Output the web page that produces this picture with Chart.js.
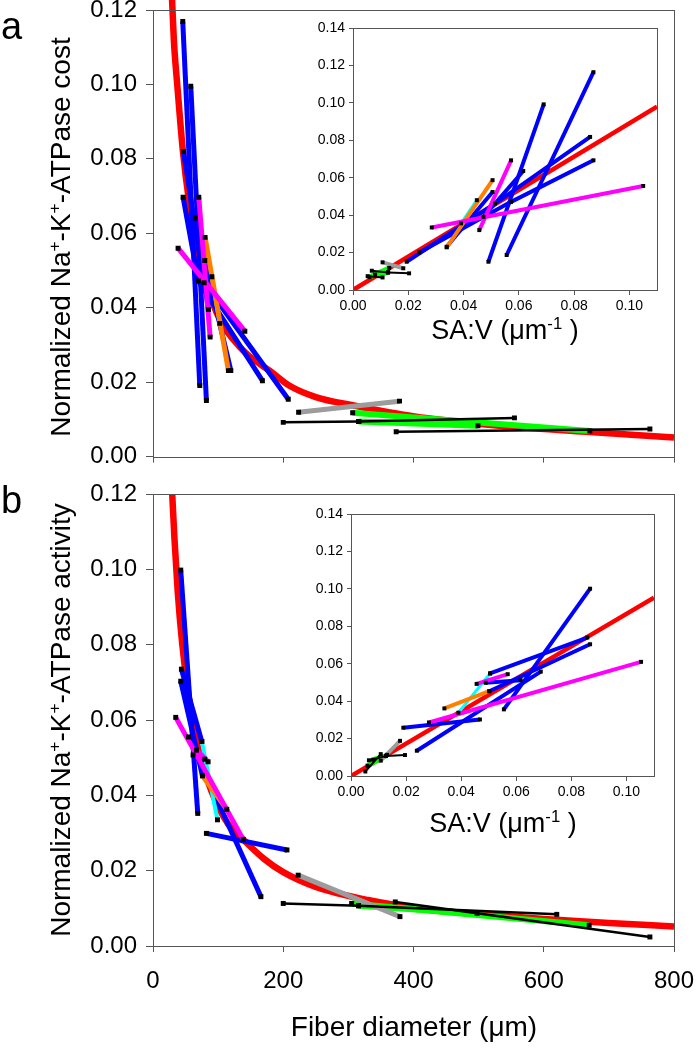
<!DOCTYPE html>
<html>
<head>
<meta charset="utf-8">
<script src="https://cdn.jsdelivr.net/npm/chart.js@4.4.1/dist/chart.umd.min.js"></script>
<style>
html,body{margin:0;padding:0;background:#fff;width:696px;height:1050px;overflow:hidden;position:relative;font-family:"Liberation Sans",Arial,Helvetica,sans-serif;color:#000;}
.cv{position:absolute;}
.tx{position:absolute;white-space:nowrap;line-height:1;color:#000;}
.yt{transform:translate(-50%,-50%) rotate(-90deg);font-size:28px;}
.xt{transform:translate(-50%,-50%);}
.tx sup{font-size:0.62em;vertical-align:baseline;position:relative;top:-0.6em;line-height:0;}
.lt{font-size:38px;}
</style>
</head>
<body>
<canvas id="ma" class="cv" width="730" height="500" style="left:0;top:-20px"></canvas>
<canvas id="mb" class="cv" width="730" height="580" style="left:0;top:470px"></canvas>
<canvas id="ia" class="cv" width="400" height="360" style="left:280px;top:0px"></canvas>
<canvas id="ib" class="cv" width="400" height="370" style="left:280px;top:480px"></canvas>

<div class="tx lt" style="left:1px;top:7px">a</div>
<div class="tx lt" style="left:1px;top:481px">b</div>
<div class="tx yt" style="left:61px;top:237px">Normalized Na<sup>+</sup>-K<sup>+</sup>-ATPase cost</div>
<div class="tx yt" style="left:61px;top:720px">Normalized Na<sup>+</sup>-K<sup>+</sup>-ATPase activity</div>
<div class="tx xt" style="left:414px;top:1027px;font-size:28px">Fiber diameter (μm)</div>
<div class="tx xt" style="left:505px;top:330px;font-size:27px">SA:V (μm<sup>-1</sup> )</div>
<div class="tx xt" style="left:503px;top:823px;font-size:27px">SA:V (μm<sup>-1</sup> )</div>

<script>
// ---------- tick labels ----------
const mainXTicks = [0, 200, 400, 600, 800];
const mainYTicks = [0, 0.02, 0.04, 0.06, 0.08, 0.10, 0.12];
const insetXTicks = [0, 0.02, 0.04, 0.06, 0.08, 0.10];
const insetYTicks = [0, 0.02, 0.04, 0.06, 0.08, 0.10, 0.12, 0.14];

// ---------- panel a, main (fiber diameter µm, normalized cost) : polylines [x1,y1,x2,y2,...] ----------
const aRedX = [28.5, 32, 37.4, 45.7, 55, 70, 90, 106.6, 132, 148, 183.5, 209, 250, 306.6, 404, 496, 583.6, 670.8, 800];
const aRedY = [0.126, 0.112, 0.0996, 0.0824, 0.069, 0.054, 0.042, 0.0355, 0.0297, 0.027, 0.0225, 0.0191, 0.016, 0.0138, 0.0107, 0.0089, 0.0076, 0.0066, 0.0051];
const aBlue = [[45.7,0.1169,71.8,0.0191],[58,0.0995,82,0.0151],[46.7,0.082,78.5,0.0467,207.7,0.0154],[46.2,0.0697,69.7,0.0472,168,0.0204],[65.1,0.0641,85.1,0.0395],[79.5,0.0527,119.5,0.0231]];
const aMagenta = [[38.5,0.056,141,0.0337],[70.3,0.0697,87.7,0.0321]];
const aOrange = [[80,0.0589,115.8,0.0231]];
const aCyan = [[90.3,0.0483,102.6,0.0358]];
const aGray = [[223.6,0.0119,378.5,0.0149]];
const aGreen = [[306.6,0.0118,670.8,0.0069],[315.9,0.0094,499,0.0083]];
const aBlack = [[200,0.0092,315.9,0.0094],[315.9,0.0094,555,0.0104],[373.4,0.0067,763,0.0074]];

// ---------- panel a, inset (SA:V µm-1) ----------
const iaRedX = [0, 0.11];
const iaRedY = [0, 0.098];
const iaBlue = [[0.087,0.1164,0.0556,0.0187],[0.069,0.0992,0.049,0.0151],[0.0858,0.0818,0.0514,0.0462,0.0194,0.0151],[0.087,0.0693,0.0572,0.0471,0.024,0.0201],[0.0616,0.0636,0.0472,0.0391],[0.0505,0.0524,0.0339,0.0231]];
const iaMagenta = [[0.105,0.0556,0.0285,0.0334],[0.0572,0.0693,0.0457,0.032]];
const iaOrange = [[0.0505,0.0587,0.0339,0.0228]];
const iaCyan = [[0.0448,0.048,0.0391,0.0356]];
const iaGray = [[0.0182,0.0116,0.0107,0.0148]];
const iaGreen = [[0.0131,0.0118,0.006,0.0069],[0.0127,0.0094,0.008,0.0083]];
const iaBlack = [[0.0203,0.0089,0.0127,0.0094],[0.0127,0.0094,0.0068,0.0103],[0.0107,0.0067,0.0053,0.0074]];

// ---------- panel b, main (fiber diameter µm, normalized activity) ----------
const bRedX = [29.5, 33, 38, 45, 55, 70, 90, 115, 140, 170, 200, 250, 330, 420, 500, 600, 700, 800];
const bRedY = [0.120, 0.108, 0.094, 0.080, 0.066, 0.052, 0.041, 0.0325, 0.028, 0.0232, 0.0196, 0.0157, 0.0122, 0.0097, 0.0085, 0.0072, 0.0061, 0.0052];
const bBlue = [[42.6,0.0998,68.7,0.0352],[43.6,0.0735,74.9,0.0543],[42.6,0.0703,75.9,0.0452],[54.4,0.0555,165.7,0.0131],[82,0.0299,205.7,0.0255],[61.5,0.0507,79.5,0.0496]];
const bMagenta = [[34.9,0.0607,138.5,0.0283],[66.7,0.052,84.6,0.0489]];
const bOrange = [[75.9,0.0452,113.3,0.0363]];
const bCyan = [[74.9,0.0543,99,0.0335]];
const bGray = [[222.9,0.0188,379.2,0.0078]];
const bGreen = [[305,0.0113,669.8,0.0055],[315.6,0.0107,497.7,0.0087]];
const bBlack = [[200,0.0113,315.6,0.0107],[315.6,0.0107,620,0.0084],[372,0.0117,763,0.0024]];

// ---------- panel b, inset ----------
const ibRedX = [0, 0.11];
const ibRedY = [0, 0.0953];
const ibBlue = [[0.0868,0.1001,0.0555,0.0356],[0.0858,0.074,0.0505,0.0548],[0.0868,0.0704,0.0502,0.0453],[0.0689,0.0558,0.0239,0.0135],[0.0468,0.0302,0.019,0.0258],[0.0616,0.0512,0.0489,0.0498]];
const ibMagenta = [[0.1053,0.061,0.0283,0.0286],[0.0569,0.0544,0.0456,0.0492]];
const ibOrange = [[0.0502,0.0453,0.0339,0.0361]];
const ibCyan = [[0.0505,0.0548,0.039,0.0338]];
const ibGray = [[0.0178,0.0188,0.0108,0.0082]];
const ibGreen = [[0.0131,0.0113,0.006,0.0055],[0.0127,0.0107,0.008,0.0087]];
const ibBlack = [[0.0196,0.0112,0.0127,0.0107],[0.0127,0.0107,0.0065,0.0084],[0.0108,0.0117,0.0052,0.0024]];

// ---------- styling ----------
const FONT = '"Liberation Sans", Arial, Helvetica, sans-serif';
const C = {red:'#ff0000', blue:'#0000ff', magenta:'#ff00ff', orange:'#ff8000', cyan:'#00ffff', gray:'#9c9c9c', green:'#00ff00', black:'#000000'};
const AXIS = '#555555';

const framePlugin = {
  id: 'frame',
  afterDraw(chart) {
    const a = chart.chartArea, ctx = chart.ctx;
    ctx.save();
    ctx.strokeStyle = AXIS; ctx.lineWidth = 1;
    ctx.strokeRect(Math.round(a.left) + 0.5, Math.round(a.top) + 0.5, Math.round(a.right - a.left), Math.round(a.bottom - a.top));
    ctx.restore();
  }
};

function groupsFor(blue, magenta, orange, cyan, gray, green, black, w, kw) {
  return [
    {segs: blue, color: C.blue, width: w, order: 60},
    {segs: gray, color: C.gray, width: w, order: 55},
    {segs: green, color: C.green, width: w + 1, order: 55},
    {segs: magenta, color: C.magenta, width: w, order: 50},
    {segs: orange, color: C.orange, width: w, order: 50},
    {segs: cyan, color: C.cyan, width: w - 1, order: 50},
    {segs: black, color: C.black, width: kw, order: 20}
  ];
}

function toPoints(s) {
  const p = [];
  for (let i = 0; i + 1 < s.length; i += 2) p.push({x: s[i], y: s[i + 1]});
  return p;
}

function buildDatasets(groups, redX, redY, redW, redClip, markerR) {
  const ds = [];
  ds.push({
    data: redX.map((x, i) => ({x: x, y: redY[i]})),
    showLine: true, borderColor: C.red, backgroundColor: C.red, borderWidth: redW,
    pointRadius: 0, cubicInterpolationMode: 'monotone', order: 100, clip: redClip
  });
  const pts = [];
  groups.forEach(g => g.segs.forEach(s => {
    const p = toPoints(s);
    ds.push({
      data: p, showLine: true, borderColor: g.color, backgroundColor: g.color, borderWidth: g.width,
      pointRadius: 0, order: g.order, clip: 0, borderJoinStyle: 'round'
    });
    p.forEach(q => pts.push({x: q.x, y: q.y}));
  }));
  ds.push({
    data: pts, showLine: false, pointStyle: 'rect', pointRadius: markerR,
    backgroundColor: '#000', borderColor: '#000', pointBorderWidth: 0, borderWidth: 0, order: 0, clip: 6
  });
  return ds;
}

function axis(o) {
  return {
    type: 'linear', min: o.min, max: o.max,
    afterBuildTicks: s => { s.ticks = o.ticks.map(v => ({value: v})); },
    afterFit: s => { if (o.horizontal) s.height = o.size; else s.width = o.size; },
    ticks: {display: o.labels, color: '#000', font: {family: FONT, size: o.font}, padding: o.pad,
            maxRotation: 0, autoSkip: false, callback: o.fmt},
    grid: {display: true, drawOnChartArea: false, drawTicks: true, tickLength: o.tick, color: AXIS, lineWidth: 1},
    border: {display: false}
  };
}

function makeChart(id, datasets, xo, yo, padding) {
  return new Chart(document.getElementById(id), {
    type: 'scatter',
    data: {datasets: datasets},
    options: {
      responsive: false, animation: false, devicePixelRatio: 1, events: [],
      layout: {padding: padding},
      plugins: {legend: {display: false}, tooltip: {enabled: false}},
      scales: {x: axis(Object.assign({horizontal: true}, xo)), y: axis(yo)}
    },
    plugins: [framePlugin]
  });
}

const fmt2 = v => Number(v).toFixed(2);
const fmt0 = v => String(v);

// Panel a main
makeChart('ma',
  buildDatasets(groupsFor(aBlue, aMagenta, aOrange, aCyan, aGray, aGreen, aBlack, 5, 2.5), aRedX, aRedY, 6.5, {left: 0, top: false, right: 0, bottom: 0}, 3.5),
  {min: 0, max: 800, ticks: mainXTicks, labels: false, font: 24, pad: 8, tick: 6, size: 18, fmt: fmt0},
  {min: 0, max: 0.12, ticks: mainYTicks, labels: true, font: 24, pad: 9, tick: 7, size: 153, fmt: fmt2},
  {left: 0, top: 30, right: 56, bottom: 0});

// Panel b main
makeChart('mb',
  buildDatasets(groupsFor(bBlue, bMagenta, bOrange, bCyan, bGray, bGreen, bBlack, 5, 2.5), bRedX, bRedY, 6.5, 0, 3.5),
  {min: 0, max: 800, ticks: mainXTicks, labels: true, font: 24, pad: 15, tick: 6, size: 104, fmt: fmt0},
  {min: 0, max: 0.12, ticks: mainYTicks, labels: true, font: 24, pad: 9, tick: 7, size: 153, fmt: fmt2},
  {left: 0, top: 24, right: 56, bottom: 0});

// Panel a inset
makeChart('ia',
  buildDatasets(groupsFor(iaBlue, iaMagenta, iaOrange, iaCyan, iaGray, iaGreen, iaBlack, 4, 2), iaRedX, iaRedY, 4.5, 0, 2.8),
  {min: 0, max: 0.11, ticks: insetXTicks, labels: true, font: 14, pad: 3, tick: 5, size: 70, fmt: fmt2},
  {min: 0, max: 0.14, ticks: insetYTicks, labels: true, font: 14, pad: 4, tick: 4, size: 73, fmt: fmt2},
  {left: 0, top: 28, right: 23, bottom: 0});

// Panel b inset
makeChart('ib',
  buildDatasets(groupsFor(ibBlue, ibMagenta, ibOrange, ibCyan, ibGray, ibGreen, ibBlack, 4, 2), ibRedX, ibRedY, 4.5, 0, 2.8),
  {min: 0, max: 0.11, ticks: insetXTicks, labels: true, font: 14, pad: 3, tick: 5, size: 74, fmt: fmt2},
  {min: 0, max: 0.14, ticks: insetYTicks, labels: true, font: 14, pad: 4, tick: 4, size: 71, fmt: fmt2},
  {left: 0, top: 34, right: 26, bottom: 0});
</script>
</body>
</html>
